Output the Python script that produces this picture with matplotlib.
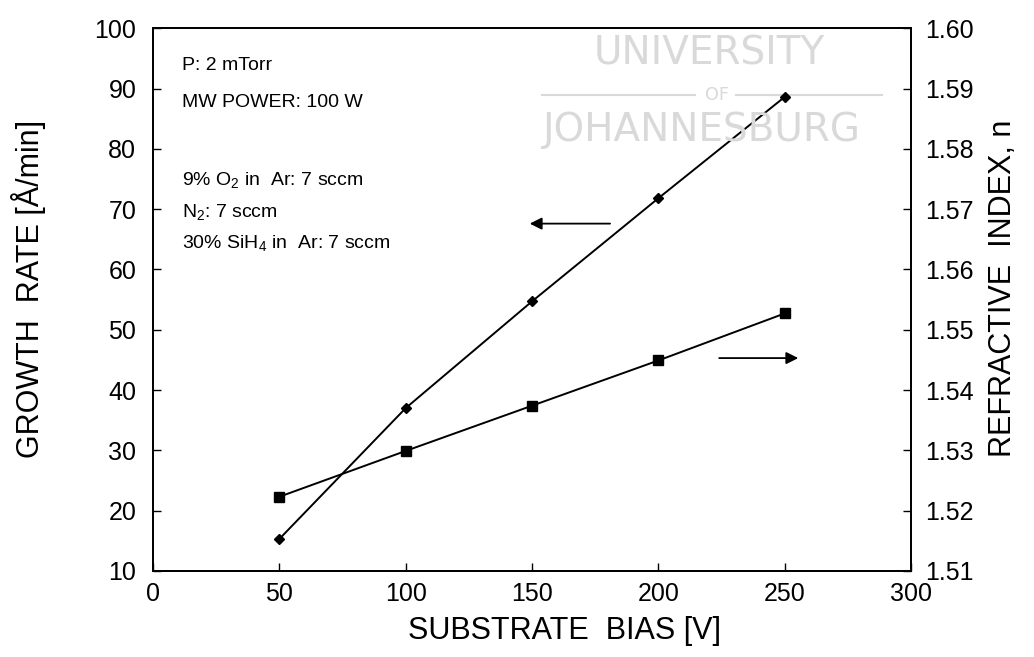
import matplotlib
matplotlib.use("Agg")
import matplotlib.pyplot as plt
from matplotlib import font_manager

plt.rcParams['font.family'] = ['Liberation Sans', 'DejaVu Sans']
plt.rcParams['mathtext.fontset'] = 'custom'
plt.rcParams['mathtext.rm'] = 'Liberation Sans'
plt.rcParams['mathtext.default'] = 'regular'

# data
bias = [50, 100, 150, 200, 250]
growth_rate = [15.3, 37.0, 54.7, 71.8, 88.6]
refr_index = [1.5223, 1.5299, 1.5374, 1.5449, 1.5527]

x_ticks = [0, 50, 100, 150, 200, 250, 300]
left_ticks = [10, 20, 30, 40, 50, 60, 70, 80, 90, 100]
right_ticks = [1.51, 1.52, 1.53, 1.54, 1.55, 1.56, 1.57, 1.58, 1.59, 1.60]

conditions = ["P: 2 mTorr", "MW POWER: 100 W",
              "9% O$_2$ in  Ar: 7 sccm", "N$_2$: 7 sccm",
              "30% SiH$_4$ in  Ar: 7 sccm"]
cond_y = [0.932, 0.864, 0.720, 0.661, 0.604]

# narrow font for the watermark if there is one
try:
    font_manager.findfont('Liberation Sans Narrow', fallback_to_default=False)
    wm_family, wm_size = 'Liberation Sans Narrow', 36
except Exception:
    wm_family, wm_size = 'DejaVu Sans', 28

fig = plt.figure(figsize=(10.34, 6.57), dpi=100)
ax = fig.add_axes([0.148, 0.131, 0.733, 0.826])
ax2 = ax.twinx()
ax.patch.set_visible(False)
ax2.patch.set_visible(False)

# watermark
wm = '#d9d9d9'
fig.text(0.686, 0.919, "UNIVERSITY", color=wm, fontsize=wm_size, ha='center', va='center',
         family=wm_family, zorder=0)
fig.text(0.693, 0.855, "OF", color=wm, fontsize=wm_size * 0.45, ha='center', va='center',
         family=wm_family, zorder=0)
fig.text(0.679, 0.802, "JOHANNESBURG", color=wm, fontsize=wm_size, ha='center', va='center',
         family=wm_family, zorder=0)
fig.add_artist(plt.Line2D([0.524, 0.672], [0.855, 0.855], color=wm, lw=1.5, zorder=0))
fig.add_artist(plt.Line2D([0.712, 0.853], [0.855, 0.855], color=wm, lw=1.5, zorder=0))

ax.plot(bias, growth_rate, color='black', lw=1.4, marker='D', ms=5, zorder=3)
ax2.plot(bias, refr_index, color='black', lw=1.4, marker='s', ms=6.5, zorder=3)

ax.set_xlim(0, 300)
ax.set_ylim(10, 100)
ax2.set_ylim(1.51, 1.60)
ax.set_xticks(x_ticks)
ax.set_yticks(left_ticks)
ax2.set_yticks(right_ticks)
ax2.set_yticklabels([f"{v:.2f}" for v in right_ticks])

ax.tick_params(axis='both', direction='in', length=6, width=1, labelsize=18)
ax.tick_params(axis='y', pad=12)
ax.tick_params(axis='x', pad=8)
ax2.tick_params(axis='y', direction='in', length=6, width=1, labelsize=18, pad=10)

for a in (ax, ax2):
    for s in a.spines.values():
        s.set_linewidth(1.3)

ax.set_xlabel("SUBSTRATE  BIAS [V]", fontsize=22)
ax.set_ylabel("GROWTH  RATE [Å/min]", fontsize=22)
ax2.set_ylabel("REFRACTIVE  INDEX, n", fontsize=22)
ax.xaxis.set_label_coords(0.543, -0.083)
ax.yaxis.set_label_coords(-0.141, 0.52)
ax2.yaxis.set_label_coords(1.102, 0.52)

for txt, yy in zip(conditions, cond_y):
    ax.text(0.038, yy, txt, transform=ax.transAxes, fontsize=14, va='center', ha='left')

# arrows pointing to the matching axis
ax.annotate("", xy=(148, 67.6), xytext=(182, 67.6),
            arrowprops=dict(arrowstyle='-|>', color='black', lw=1.3, mutation_scale=18))
ax.annotate("", xy=(256.5, 45.3), xytext=(223, 45.3),
            arrowprops=dict(arrowstyle='-|>', color='black', lw=1.3, mutation_scale=18))

fig.savefig("out.png", dpi=100)
